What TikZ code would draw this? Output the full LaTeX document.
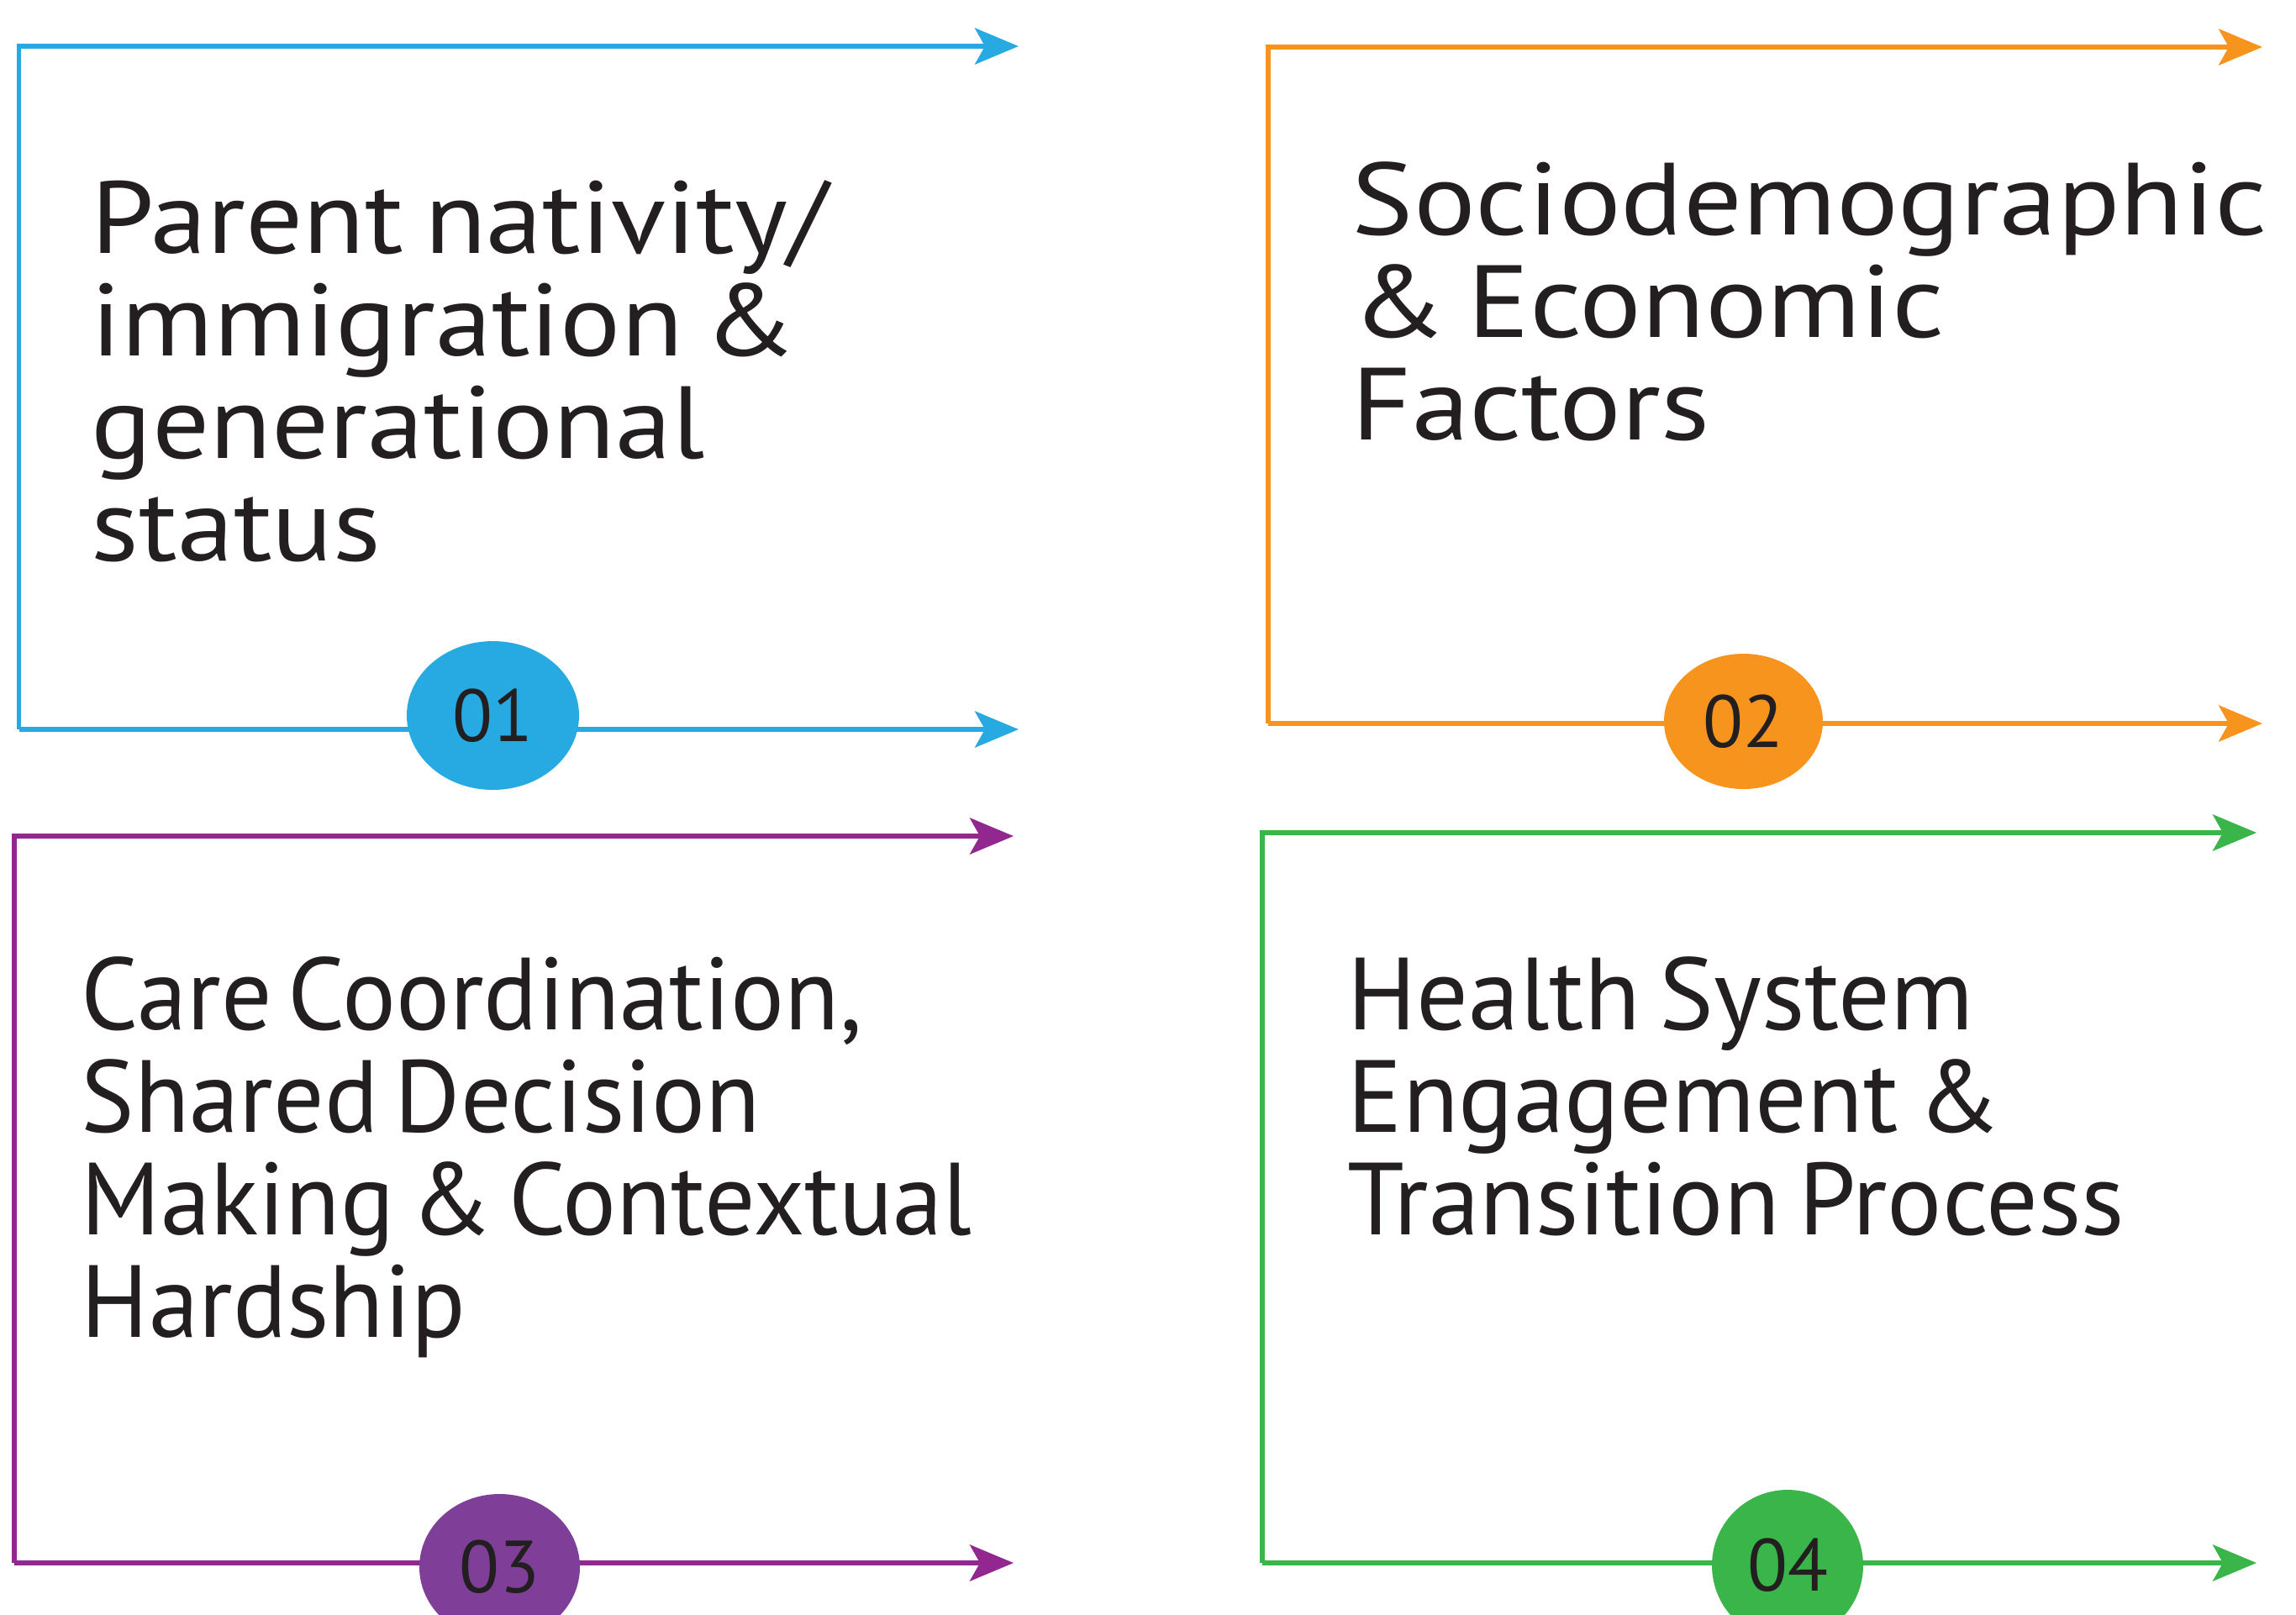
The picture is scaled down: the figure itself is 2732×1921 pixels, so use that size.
\documentclass[tikz,border=0pt]{standalone}
\usepackage{fontspec}
\setmainfont{PT Sans}[WordSpace=0.7]
\newfontfamily\fontA{PT Sans}[WordSpace=0.7, FakeStretch=1.105]
\newfontfamily\fontB{PT Sans}[WordSpace=0.7, FakeStretch=1.13]
\newfontfamily\fontC{PT Sans}[WordSpace=0.6, FakeStretch=0.98]
\newfontfamily\fontD{PT Sans}[WordSpace=0.7]
\usetikzlibrary{arrows.meta,shapes.geometric}
\definecolor{cblue}{HTML}{27AAE1}
\definecolor{corange}{HTML}{F7941D}
\definecolor{cpurpleline}{HTML}{92278F}
\definecolor{cpurple}{HTML}{7F3F98}
\definecolor{cgreen}{HTML}{39B54A}
\definecolor{ctext}{HTML}{231F20}
\tikzset{
  frame/.style={line width=1.35pt, line join=miter, -{Stealth[length=13pt,width=10.8pt,inset=3pt]}},
  badge/.style={ellipse, inner sep=0pt, text=ctext, font=\fontsize{22}{24}\selectfont},
  label/.style={anchor=base west, align=left, inner sep=0pt, text=ctext}
}
\begin{document}
\begin{tikzpicture}[x=0.25pt,y=-0.25pt]
\useasboundingbox (0,0) rectangle (2732,1921);
\clip (0,0) rectangle (2732,1921);
% box 1
\coordinate (a-tl) at (22.7,55);
\coordinate (a-tr) at (1212,55);
\coordinate (a-bl) at (22.7,868);
\coordinate (a-br) at (1212,868);
\draw[frame, cblue] (a-bl) -- (a-tl) -- (a-tr);
\draw[frame, cblue] (a-bl) -- (a-br);
\node[badge, fill=cblue, minimum width=51.25pt, minimum height=44.25pt] (a-num) at (586.5,851.5) {01};
% anchor is the baseline of the last line
\node[label, font={\fontA\fontsize{30.5}{30.5}\selectfont}] (a-txt) at (108,667) {Parent nativity/\\immigration \&\\generational\\status};
% box 2
\coordinate (b-tl) at (1509,56);
\coordinate (b-tr) at (2692,56);
\coordinate (b-bl) at (1509,861);
\coordinate (b-br) at (2692,861);
\draw[frame, corange] (b-bl) -- (b-tl) -- (b-tr);
\draw[frame, corange] (b-bl) -- (b-br);
\node[badge, fill=corange, minimum width=47.25pt, minimum height=40.25pt] (b-num) at (2074.5,858.5) {02};
\node[label, font={\fontB\fontsize{30.5}{30.5}\selectfont}] (b-txt) at (1608,523) {Sociodemographic\\\& Economic\\Factors};
% box 3
\coordinate (c-tl) at (17,995);
\coordinate (c-tr) at (1206,995);
\coordinate (c-bl) at (17,1860);
\coordinate (c-br) at (1206,1860);
\draw[frame, cpurpleline] (c-bl) -- (c-tl) -- (c-tr);
\draw[frame, cpurpleline] (c-bl) -- (c-br);
\node[badge, fill=cpurple, minimum width=47.75pt, minimum height=43.5pt] (c-num) at (594.5,1865) {03};
\node[label, font={\fontC\fontsize{30.5}{30.5}\selectfont}] (c-txt) at (96,1591) {Care Coordination,\\Shared Decision\\Making \& Contextual\\Hardship};
% box 4
\coordinate (d-tl) at (1502,991);
\coordinate (d-tr) at (2685,991);
\coordinate (d-bl) at (1502,1860);
\coordinate (d-br) at (2685,1860);
\draw[frame, cgreen] (d-bl) -- (d-tl) -- (d-tr);
\draw[frame, cgreen] (d-bl) -- (d-br);
\node[badge, fill=cgreen, minimum width=45pt, minimum height=45pt] (d-num) at (2127,1863) {04};
\node[label, font={\fontD\fontsize{30.5}{30.5}\selectfont}] (d-txt) at (1603,1469) {Health System\\Engagement \&\\Transition Process};
\end{tikzpicture}
\end{document}
